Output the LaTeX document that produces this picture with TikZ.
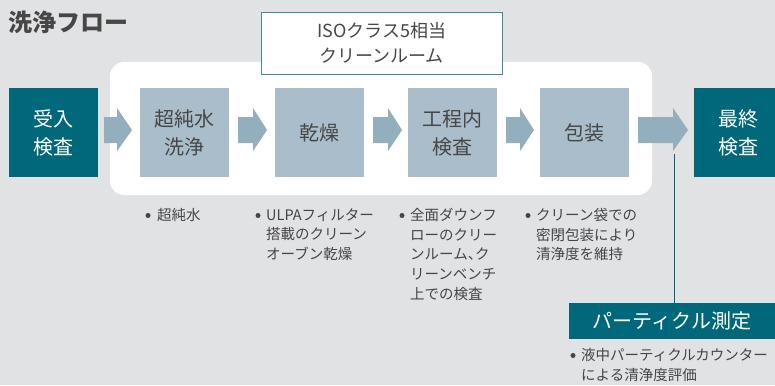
\documentclass[tikz,border=0pt]{standalone}
\usepackage{fontspec}
\setmainfont{Noto Sans CJK JP}
\usetikzlibrary{calc}
\definecolor{bgc}{HTML}{E1E2E4}
\definecolor{teal}{HTML}{00687A}
\definecolor{lightbox}{HTML}{A9BDCA}
\definecolor{arrowc}{HTML}{93AEBC}
\definecolor{isoborder}{HTML}{3D8A9A}
\definecolor{boxtext}{HTML}{474747}
\definecolor{bodytext}{HTML}{454545}
\tikzset{
  darkbox/.style={fill=teal, text=white, minimum width=89pt, minimum height=89pt, inner sep=0pt, align=center, font=\fontsize{20}{28}\selectfont},
  lightstep/.style={fill=lightbox, text=boxtext, minimum width=89pt, minimum height=89pt, inner sep=0pt, align=center, font=\fontsize{20}{28}\selectfont},
  bul/.style={circle, fill=bodytext, inner sep=0pt, minimum size=5pt},
  btext/.style={anchor=north west, inner sep=0pt, text=bodytext, align=left, font=\fontsize{14.5}{19.7}\selectfont},
}
\newcommand\blockarr[3]{\fill[arrowc] (#1,117) -- (#2,117) -- (#2,108) -- (#3,130) -- (#2,151) -- (#2,143) -- (#1,143) -- cycle;}
\begin{document}
\begin{tikzpicture}[x=1pt,y=-1pt]
\fill[bgc] (0,0) rectangle (775,385);
\useasboundingbox (0,0) rectangle (775,385);
% title
\node[anchor=west, inner sep=0pt, text=boxtext, font=\fontsize{24}{28}\selectfont\bfseries] (title) at (8,22) {洗浄フロー};
% clean room area
\fill[white, rounded corners=14pt] (110,62) rectangle (652,195);
\node[draw=isoborder, line width=0.8pt, fill=white, minimum width=241pt, minimum height=62pt, inner sep=0pt, align=center, text=boxtext, font=\fontsize{18}{25}\selectfont] (iso) at (381.5,43) {ISOクラス5相当\\クリーンルーム};
% steps
\node[darkbox] (s0) at (53.5,132.5) {受入\\検査};
\node[lightstep] (s1) at (184.5,132.5) {超純水\\洗浄};
\node[lightstep] (s2) at (319,132.5) {乾燥};
\node[lightstep] (s3) at (452.5,132.5) {工程内\\検査};
\node[lightstep] (s4) at (584.5,132.5) {包装};
\fill[teal] (694,88) rectangle (775,177);
\node[text=white, align=center, inner sep=0pt, font=\fontsize{20}{28}\selectfont] (s5) at (738,132.5) {最終\\検査};
% arrows
\blockarr{104}{117}{132}
\blockarr{238}{253}{267}
\blockarr{373}{388}{402}
\blockarr{506}{520}{534}
\blockarr{638}{673}{688}
% particle
\fill[teal] (569,303) rectangle (775,339);
\node[text=white, inner sep=0pt, font=\fontsize{20}{24}\selectfont] (pm) at (672,321) {パーティクル測定};
\coordinate (ltop) at (674,154);
\draw[teal, line width=0.9pt] (ltop) -- (674,303);
% bullets
\node[bul] (b1) at (148,215.5) {};
\node[btext] (t1) at (157,208) {超純水};
\node[bul] (b2) at (258,215.5) {};
\node[btext] (t2) at (266,208) {ULPAフィルター\\搭載のクリーン\\オーブン乾燥};
\node[bul] (b3) at (402,215.5) {};
\node[btext] (t3) at (410,208) {全面ダウンフ\\ローのクリー\\ンルーム、\kern-0.5em ク\\リーンベンチ\\上での検査};
\node[bul] (b4) at (528,215.5) {};
\node[btext] (t4) at (536,208) {クリーン袋での\\密閉包装により\\清浄度を維持};
\node[bul] (b5) at (573,355.5) {};
\node[btext] (t5) at (581,348) {液中パーティクルカウンター\\による清浄度評価};
\end{tikzpicture}
\end{document}
